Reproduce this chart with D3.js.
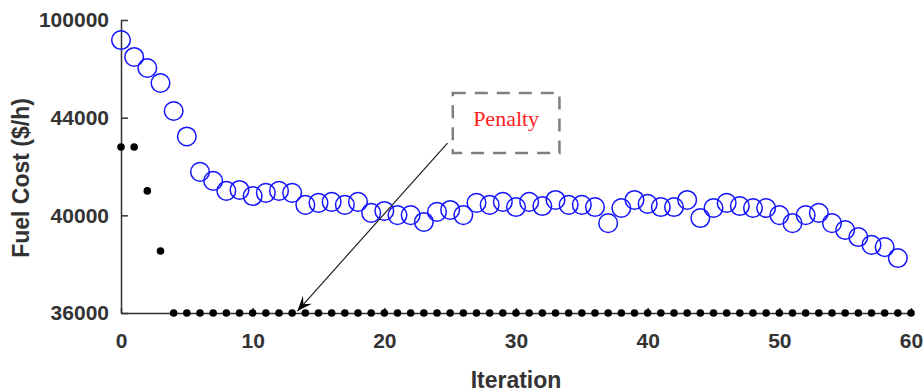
<!DOCTYPE html>
<html>
<head>
<meta charset="utf-8">
<script src="https://cdn.jsdelivr.net/npm/d3@7/dist/d3.min.js"></script>
<style>
  body { margin: 0; background: #fff; }
  .axis text { font-family: "Liberation Sans", Arial, sans-serif; font-weight: bold; font-size: 21px; fill: #333; }
  .axis path, .axis line { stroke: #333; stroke-width: 1.5; }
</style>
</head>
<body>
<svg id="chart" width="923" height="392"></svg>
<script>
// Fuel cost per iteration (0..59)
const fuelCost = [
  88500, 78800, 72480, 63880, 47820, 43230, 41780, 41410, 41000, 41040,
  40790, 40920, 41000, 40920, 40430, 40510, 40550, 40430, 40550, 40100,
  40180, 40010, 40010, 39730, 40140, 40220, 40010, 40510, 40430, 40550,
  40340, 40550, 40380, 40630, 40430, 40430, 40340, 39680, 40300, 40630,
  40470, 40340, 40340, 40630, 39890, 40300, 40510, 40380, 40300, 40300,
  40010, 39680, 40010, 40100, 39680, 39400, 39110, 38790, 38700, 38250
];

// Penalty per iteration (0..60)
const penalty = [
  42800, 42800, 41000, 38540, 36000, 36000, 36000, 36000, 36000, 36000,
  36000, 36000, 36000, 36000, 36000, 36000, 36000, 36000, 36000, 36000,
  36000, 36000, 36000, 36000, 36000, 36000, 36000, 36000, 36000, 36000,
  36000, 36000, 36000, 36000, 36000, 36000, 36000, 36000, 36000, 36000,
  36000, 36000, 36000, 36000, 36000, 36000, 36000, 36000, 36000, 36000,
  36000, 36000, 36000, 36000, 36000, 36000, 36000, 36000, 36000, 36000,
  36000
];

const xTicks = [0, 10, 20, 30, 40, 50, 60];
const yTicks = [36000, 40000, 44000, 100000];

// annotation: box corners and arrow in data units
const noteBox = { x0: 25.2, x1: 33.3, yTop: 58100, yBottom: 42550 };
const noteArrow = { from: [24.8, 42960], to: [13.4, 36080] };
const noteText = "Penalty";

const svg = d3.select('#chart');

const plotLeft = 121, plotRight = 911, plotTop = 20, plotBottom = 313;

const x = d3.scaleLinear().domain([0, 60]).range([plotLeft, plotRight]);
// the y axis is piecewise: each labelled tick gets the same height
const y = d3.scaleLinear()
  .domain(yTicks)
  .range(yTicks.map((d, i) => plotBottom - i * (plotBottom - plotTop) / (yTicks.length - 1)));

// Axes
svg.append('g')
  .attr('class', 'axis')
  .attr('transform', 'translate(0,' + plotBottom + ')')
  .call(d3.axisBottom(x).tickValues(xTicks).tickSize(-5).tickSizeOuter(0).tickPadding(20));

svg.append('g')
  .attr('class', 'axis')
  .attr('transform', 'translate(' + plotLeft + ',0)')
  .call(d3.axisLeft(y).tickValues(yTicks).tickFormat(d3.format('d')).tickSize(-7).tickSizeOuter(0).tickPadding(12));

// Fuel cost: open blue circles
svg.append('g')
  .selectAll('circle')
  .data(fuelCost)
  .enter()
  .append('circle')
  .attr('cx', (d, i) => x(i))
  .attr('cy', d => y(d))
  .attr('r', 9.3)
  .attr('fill', 'none')
  .attr('stroke', '#1414ff')
  .attr('stroke-width', 1.5);

// Penalty: black dots
svg.append('g')
  .selectAll('circle')
  .data(penalty)
  .enter()
  .append('circle')
  .attr('cx', (d, i) => x(i))
  .attr('cy', d => y(d))
  .attr('r', 3.8)
  .attr('fill', '#000');

// Axis titles
svg.append('text')
  .attr('transform', 'translate(29,' + 178 + ') rotate(-90)')
  .attr('text-anchor', 'middle')
  .style('font-family', '"Liberation Sans", Arial, sans-serif')
  .style('font-weight', 'bold')
  .style('font-size', '23px')
  .style('fill', '#333')
  .text('Fuel Cost ($/h)');

svg.append('text')
  .attr('x', (plotLeft + plotRight) / 2)
  .attr('y', 388)
  .attr('text-anchor', 'middle')
  .style('font-family', '"Liberation Sans", Arial, sans-serif')
  .style('font-weight', 'bold')
  .style('font-size', '23px')
  .style('fill', '#333')
  .text('Iteration');

// Annotation box
const bx0 = x(noteBox.x0), bx1 = x(noteBox.x1);
const by0 = y(noteBox.yTop), by1 = y(noteBox.yBottom);
svg.append('rect')
  .attr('x', bx0)
  .attr('y', by0)
  .attr('width', bx1 - bx0)
  .attr('height', by1 - by0)
  .attr('fill', 'none')
  .attr('stroke', '#7f7f7f')
  .attr('stroke-width', 2.5)
  .attr('stroke-dasharray', '13,9');

svg.append('text')
  .attr('x', (bx0 + bx1) / 2)
  .attr('y', by0 + 33)
  .attr('text-anchor', 'middle')
  .style('font-family', '"Liberation Serif", "Times New Roman", serif')
  .style('font-size', '22px')
  .style('fill', '#ff2020')
  .text(noteText);

// Arrow
const ax0 = x(noteArrow.from[0]), ay0 = y(noteArrow.from[1]);
const ax1 = x(noteArrow.to[0]), ay1 = y(noteArrow.to[1]);
svg.append('line')
  .attr('x1', ax0).attr('y1', ay0)
  .attr('x2', ax1).attr('y2', ay1)
  .attr('stroke', '#222')
  .attr('stroke-width', 1.2);

const ang = Math.atan2(ay1 - ay0, ax1 - ax0);
const headLen = 15, headW = 6;
const bxp = ax1 - headLen * Math.cos(ang), byp = ay1 - headLen * Math.sin(ang);
const nx = -Math.sin(ang), ny = Math.cos(ang);
const notch = 0.6;
svg.append('path')
  .attr('d', d3.line()([
    [ax1, ay1],
    [bxp + headW * nx, byp + headW * ny],
    [ax1 - headLen * notch * Math.cos(ang), ay1 - headLen * notch * Math.sin(ang)],
    [bxp - headW * nx, byp - headW * ny]
  ]) + 'Z')
  .attr('fill', '#000');
</script>
</body>
</html>
